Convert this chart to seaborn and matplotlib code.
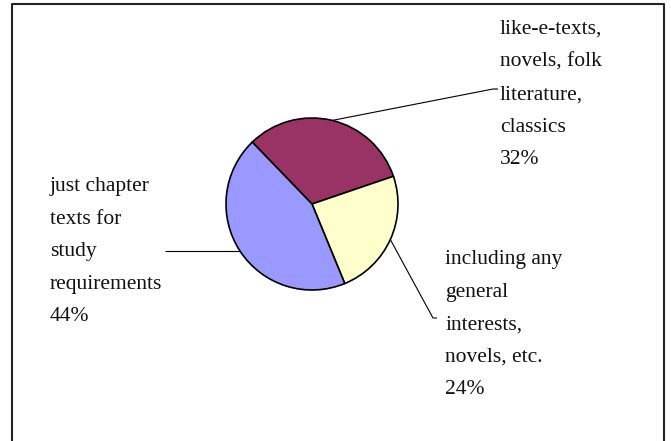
import matplotlib
matplotlib.use("Agg")
import matplotlib.pyplot as plt
import seaborn as sns
import numpy as np
from matplotlib.lines import Line2D

# ---- data ----
categories = [
    "like-e-texts,\nnovels, folk\nliterature,\nclassics",
    "including any\ngeneral\ninterests,\nnovels, etc.",
    "just chapter\ntexts for\nstudy\nrequirements",
]
values = [32, 24, 44]
colors = ["#993366", "#FFFFCC", "#9999FF"]

sns.set_theme(style="white")
plt.rcParams['font.family'] = ['Liberation Serif', 'DejaVu Serif']

W, H = 671, 441
fig = plt.figure(figsize=(W / 100, H / 100), dpi=100)
fig.patch.set_facecolor("white")
ax = fig.add_axes([0, 0, 1, 1])


def Y(y):
    return H - y


cx, cy, r = 312, Y(204), 86
wedges, _ = ax.pie(values, colors=colors, startangle=134, counterclock=False,
                   center=(cx, cy), radius=r, frame=True,
                   wedgeprops=dict(edgecolor="black", linewidth=1.2))
ax.set_xlim(0, W)
ax.set_ylim(0, H)
ax.axis("off")

# label layout (pixel positions); None y = keep the leader horizontal
layout = [
    dict(text=(500, 20), path=[(493, 89), (498, 89)]),
    dict(text=(445, 250), path=[(433, 318), (437, 318)]),
    dict(text=(50, 177), path=[(165, None)]),
]

for w, cat, v, lay in zip(wedges, categories, values, layout):
    mid = np.deg2rad((w.theta1 + w.theta2) / 2)
    sx, sy = cx + r * np.cos(mid), cy + r * np.sin(mid)
    xs = [sx] + [p[0] for p in lay["path"]]
    ys = [sy] + [sy if p[1] is None else Y(p[1]) for p in lay["path"]]
    ax.plot(xs, ys, color="black", linewidth=0.8, solid_capstyle="butt")
    tx, ty = lay["text"]
    ax.text(tx, Y(ty), f"{cat}\n{v}%", ha="left", va="top",
            fontsize=15.5, color="#111111", linespacing=1.97)

# outer border (left, top, right)
bx0, bx1, by0 = 12, 664, 4
fig.add_artist(Line2D([bx0 / W, bx0 / W, bx1 / W, bx1 / W],
                      [0, 1 - by0 / H, 1 - by0 / H, 0],
                      transform=fig.transFigure, color="#222222", linewidth=1.5))

fig.savefig("out.png", dpi=100, facecolor="white")
